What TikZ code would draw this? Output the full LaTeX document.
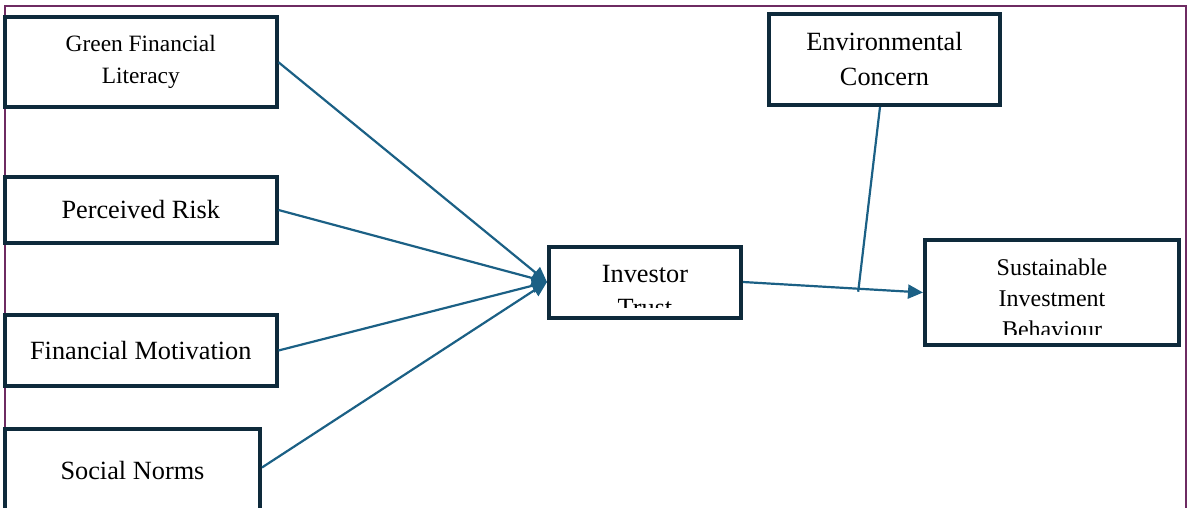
\documentclass[tikz,border=0pt]{standalone}
\usepackage{fontspec}
\setmainfont{Liberation Serif}
\usetikzlibrary{arrows.meta}
\definecolor{boxnavy}{HTML}{0E2A3B}
\definecolor{linkblue}{HTML}{1B6085}
\definecolor{framepurple}{HTML}{6E2B62}

\begin{document}
\begin{tikzpicture}
		[x=1pt,y=-1pt,
		box/.style={draw=boxnavy,line width=4pt,inner sep=0pt,align=center,fill=white},
		link/.style={linkblue,line width=2.2pt},
		head/.style={-{Triangle[length=15pt,width=14pt]}},
		bigtext/.style={font=\fontsize{26.3}{35}\selectfont},
		smalltext/.style={font=\fontsize{23.4}{32}\selectfont},
		cuttext/.style={align=center,inner sep=0pt},
		frame/.style={framepurple,line width=1.5pt}]
		
		\useasboundingbox (0,0) rectangle (1192,508);
		\draw[frame] (5,6) rectangle (1186,540);
		
		\node[box,smalltext,minimum width=271.5pt,minimum height=90.5pt] (gfl) at (140.75,62.25) {Green Financial\\Literacy};
		\node[box,bigtext,minimum width=271.5pt,minimum height=66pt] (pr) at (140.75,210) {Perceived Risk};
		\node[box,bigtext,minimum width=271.5pt,minimum height=71pt] (fm) at (140.75,350.5) {Financial Motivation};
		\node[box,bigtext,minimum width=255pt,minimum height=83pt] (sn) at (132.5,470.5) {Social Norms};
		\node[box,bigtext,minimum width=231pt,minimum height=91pt] (ec) at (884.5,59.5) {Environmental\\Concern};
		
		% text runs past the bottom of these two boxes
		\node[box,minimum width=192pt,minimum height=71pt] (it) at (645,282) {};
		\begin{scope}
			\clip (it.north west) rectangle ([yshift=12.5pt]it.south east);
			\node[cuttext,font=\fontsize{26.3}{34}\selectfont] (ittext) at (645,291.5) {Investor\\Trust};
		\end{scope}
		\node[box,minimum width=254pt,minimum height=105pt] (sib) at (1052,292.5) {};
		\begin{scope}
			\clip (sib.north west) rectangle ([yshift=13pt]sib.south east);
			\node[cuttext,font=\fontsize{24}{31}\selectfont] (sibtext) at (1052,298) {Sustainable\\Investment\\Behaviour};
		\end{scope}
		
		\draw[link,head] (gfl.east) -- (it.west);
		\draw[link,head] (pr.east) -- (it.west);
		\draw[link,head] (fm.east) -- (it.west);
		\draw[link,head] ([yshift=3pt]sn.east) -- (it.west);
		
		\draw[link,head] (it.east) -- coordinate[pos=0.64] (mod) (sib.west);
		\draw[link] ([xshift=-4.5pt]ec.south) -- ([yshift=-3pt]mod); % moderator
		
\end{tikzpicture}
\end{document}
